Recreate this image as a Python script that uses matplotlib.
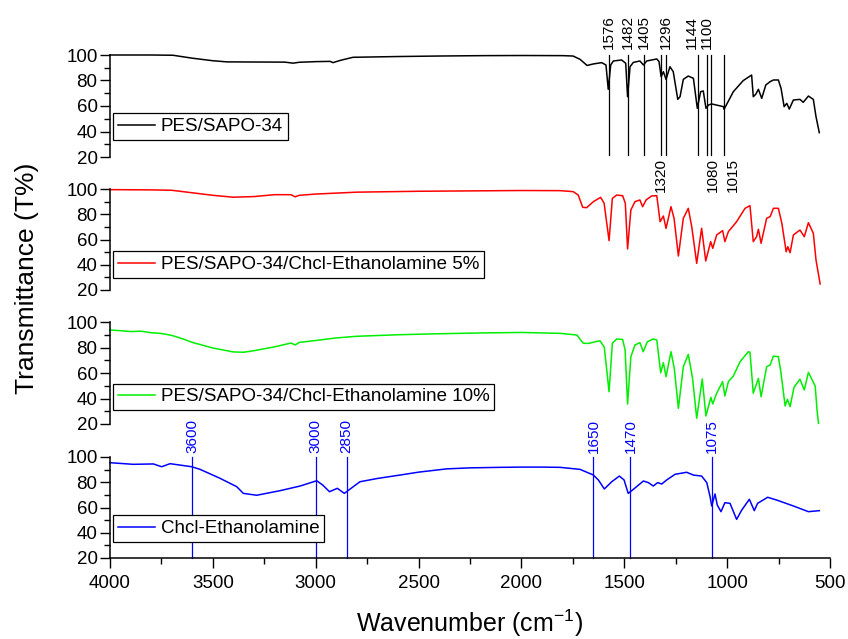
import matplotlib
matplotlib.use('Agg')
import matplotlib.pyplot as plt
from matplotlib.ticker import MultipleLocator

plt.rcParams['font.family'] = ['Liberation Sans', 'DejaVu Sans']
plt.rcParams['mathtext.fontset'] = 'custom'
plt.rcParams['mathtext.rm'] = 'Liberation Sans'
plt.rcParams['mathtext.default'] = 'regular'

# ---------------- data ----------------
labels = ['PES/SAPO-34',
          'PES/SAPO-34/Chcl-Ethanolamine 5%',
          'PES/SAPO-34/Chcl-Ethanolamine 10%',
          'Chcl-Ethanolamine']
colors = ['black', 'red', '#00ee00', 'blue']

pes_wn = [4000, 3800, 3694, 3600, 3500, 3431, 3300, 3150, 3110, 3080,
          3000, 2930, 2916, 2880, 2819, 2600, 2400, 2187, 2000, 1800,
          1749, 1715, 1681, 1650, 1610, 1589, 1578, 1566, 1553, 1513,
          1493, 1484, 1472, 1456, 1424, 1407, 1391, 1342, 1331, 1321,
          1310, 1297, 1278, 1262, 1240, 1229, 1213, 1189, 1164, 1145,
          1129, 1116, 1103, 1091, 1075, 1018, 1015, 970, 922, 881,
          873, 861, 848, 832, 812, 791, 775, 751, 738, 723,
          710, 698, 678, 646, 630, 605, 581, 568, 552]
pes_t = [100, 100, 99.8, 97.5, 95.5, 94.6, 94.5, 94.4, 93.6, 94.3,
         94.8, 95.0, 94.0, 95.8, 98.2, 98.8, 99.2, 99.5, 99.6, 99.5,
         99.2, 96.6, 91.8, 93.0, 94.0, 92.2, 73.1, 92.2, 95.3, 96.1,
         93.5, 67.3, 90.8, 94.2, 95.3, 92.2, 95.3, 96.9, 94.8, 83.0,
         86.9, 80.9, 90.8, 86.9, 65.2, 67.3, 80.9, 83.5, 81.7, 58.2,
         71.2, 71.8, 58.2, 60.8, 61.6, 59.5, 57.4, 71.2, 79.9, 84.3,
         67.3, 69.2, 73.1, 66.0, 76.5, 79.1, 80.4, 80.4, 73.9, 59.5,
         62.1, 57.6, 64.7, 65.2, 62.9, 67.8, 65.2, 51.6, 39.1]

des5_wn = [4000, 3800, 3700, 3600, 3500, 3400, 3300, 3200, 3120, 3100,
           3080, 3000, 2800, 2500, 2000, 1812, 1748, 1724, 1702, 1683,
           1650, 1615, 1598, 1574, 1558, 1537, 1508, 1495, 1484, 1468,
           1448, 1424, 1411, 1394, 1367, 1342, 1326, 1310, 1297, 1273,
           1258, 1237, 1213, 1189, 1172, 1148, 1124, 1104, 1080, 1070,
           1051, 1022, 1011, 994, 954, 913, 889, 873, 857, 848,
           835, 808, 791, 775, 751, 734, 713, 705, 694, 678,
           646, 625, 605, 581, 568, 548]
des5_t = [99.5, 99.3, 99.0, 97.0, 95.0, 93.5, 94.0, 95.5, 95.5, 93.8,
          95.0, 96.0, 97.5, 98.2, 98.8, 98.7, 97.9, 95.2, 85.5, 85.2,
          90.0, 93.4, 88.7, 59.1, 92.6, 95.2, 94.7, 88.7, 52.5, 83.4,
          90.0, 91.3, 86.0, 91.3, 94.5, 94.7, 74.1, 78.6, 68.8, 86.0,
          76.8, 46.9, 76.8, 84.7, 70.1, 41.1, 68.9, 43.0, 58.3, 53.0,
          63.6, 67.0, 58.3, 66.2, 74.1, 84.7, 86.8, 58.3, 62.2, 68.1,
          57.0, 76.8, 78.1, 84.7, 84.7, 72.8, 50.3, 54.3, 49.5, 63.6,
          67.5, 62.2, 73.3, 64.9, 43.8, 24.8]

des10_wn = [4000, 3950, 3900, 3850, 3800, 3750, 3700, 3650, 3600, 3500,
            3400, 3350, 3300, 3200, 3120, 3100, 3080, 3000, 2900, 2800,
            2600, 2400, 2200, 2000, 1812, 1731, 1699, 1675, 1618, 1597,
            1574, 1558, 1537, 1508, 1496, 1484, 1468, 1448, 1424, 1408,
            1388, 1359, 1342, 1323, 1310, 1297, 1273, 1257, 1237, 1213,
            1189, 1168, 1148, 1121, 1103, 1079, 1070, 1051, 1022, 1011,
            994, 970, 937, 897, 889, 873, 848, 835, 808, 791,
            775, 751, 739, 718, 707, 694, 675, 646, 625, 605,
            572, 563, 556]
des10_t = [93.7, 93.2, 92.5, 92.8, 91.6, 91.0, 89.5, 87.0, 84.0, 79.6,
           76.5, 76.3, 77.5, 80.5, 83.5, 82.0, 84.0, 85.5, 87.5, 88.8,
           90.0, 90.8, 91.4, 91.8, 91.1, 89.8, 83.3, 83.2, 85.3, 80.1,
           45.3, 83.3, 86.7, 86.3, 78.0, 35.7, 72.8, 82.0, 83.8, 76.7,
           84.5, 86.7, 85.9, 60.2, 68.1, 57.1, 76.7, 63.7, 32.3, 64.9,
           74.6, 55.8, 24.5, 55.3, 26.3, 40.9, 35.7, 44.1, 53.2, 42.0,
           53.2, 57.6, 68.9, 76.7, 76.2, 44.1, 55.8, 41.4, 64.9, 66.3,
           73.3, 72.8, 61.0, 34.1, 39.4, 33.6, 48.8, 55.1, 46.7, 60.5,
           49.8, 31.0, 20.5]

chcl_wn = [4000, 3887, 3789, 3749, 3708, 3660, 3603, 3562, 3465, 3384,
           3352, 3287, 3174, 3076, 2995, 2966, 2933, 2895, 2861, 2785,
           2700, 2590, 2500, 2363, 2250, 2104, 2000, 1900, 1812, 1715,
           1650, 1626, 1597, 1561, 1524, 1501, 1481, 1464, 1407, 1383,
           1359, 1338, 1318, 1294, 1253, 1197, 1164, 1124, 1099, 1083,
           1075, 1059, 1048, 1030, 1011, 986, 954, 929, 892, 868,
           852, 803, 759, 678, 605, 552]
chcl_t = [95.5, 94.2, 94.5, 92.3, 94.7, 93.6, 92.3, 90.2, 83.1, 76.5,
          71.2, 69.7, 73.3, 77.0, 81.2, 77.8, 72.5, 75.2, 71.2, 80.4,
          83.0, 85.7, 88.0, 90.6, 91.4, 91.8, 92.0, 92.0, 91.8, 90.2,
          85.7, 81.8, 74.7, 80.4, 84.9, 81.8, 71.2, 73.3, 81.0, 79.7,
          77.0, 79.7, 78.6, 81.8, 86.3, 87.9, 85.7, 84.9, 79.7, 68.6,
          61.2, 70.7, 62.0, 56.7, 63.8, 63.3, 50.6, 58.0, 66.5, 57.5,
          63.3, 68.1, 65.9, 61.2, 56.7, 57.5]

pes_peaks_top = [1576, 1482, 1405, 1296, 1144, 1100]
pes_peaks_bottom = [1320, 1080, 1015]
chcl_peaks = [3600, 3000, 2850, 1650, 1470, 1075]

xticks = [4000, 3500, 3000, 2500, 2000, 1500, 1000, 500]
yticks = [20, 40, 60, 80, 100]

series_wn = [pes_wn, des5_wn, des10_wn, chcl_wn]
series_t = [pes_t, des5_t, des10_t, chcl_t]

# label nudges (points) so neighbouring labels do not collide
top_nudge = {1144: -4}
bottom_nudge = {1080: 1.5, 1015: 6}

# ---------------- layout ----------------
fig = plt.figure(figsize=(8.48, 6.39), dpi=100)
W, H = 848.0, 639.0
x0, x1 = 110, 830
panels_px = [(55, 157), (189, 290), (322, 424), (457, 558)]
legend_y = [0.167, 0.12, 0.137, 0.16]

axes = []
for i, (top, bot) in enumerate(panels_px):
    ax = fig.add_axes([x0 / W, 1 - bot / H, (x1 - x0) / W, (bot - top) / H])
    axes.append(ax)
    ax.plot(series_wn[i], series_t[i], color=colors[i], lw=1.1,
            label=labels[i], clip_on=False)
    ax.set_xlim(4000, 500)
    ax.set_ylim(20, 100)
    ax.set_yticks(yticks)
    ax.yaxis.set_minor_locator(MultipleLocator(10))
    ax.tick_params(axis='y', which='major', direction='out', length=7,
                   width=1, labelsize=13.5, pad=2)
    ax.tick_params(axis='y', which='minor', direction='out', length=4, width=1)
    for s in ['top', 'right']:
        ax.spines[s].set_visible(False)
    ax.spines['left'].set_linewidth(1.1)
    if i < 3:
        ax.spines['bottom'].set_visible(False)
        ax.set_xticks([])
        ax.xaxis.set_minor_locator(plt.NullLocator())
    else:
        ax.spines['bottom'].set_linewidth(1.1)
        ax.set_xticks(xticks)
        ax.xaxis.set_minor_locator(MultipleLocator(250))
        ax.tick_params(axis='x', which='major', direction='out', length=7,
                       width=1, labelsize=13.5, pad=5)
        ax.tick_params(axis='x', which='minor', direction='out', length=4,
                       width=1)
    ax.patch.set_alpha(0)
    leg = ax.legend(loc='lower left', bbox_to_anchor=(0.004, legend_y[i]),
                    borderaxespad=0, fontsize=13.5, frameon=True,
                    fancybox=False, framealpha=1, edgecolor='black',
                    handlelength=2.0, handletextpad=0.3, borderpad=0.25)
    leg.get_frame().set_linewidth(0.9)

# annotations panel 1
ax = axes[0]
for wn in pes_peaks_top + pes_peaks_bottom:
    ax.plot([wn, wn], [21.5, 100], color='black', lw=0.9, clip_on=False)
for wn in pes_peaks_top:
    ax.annotate(str(wn), xy=(wn, 100), xytext=(top_nudge.get(wn, 0), 4),
                textcoords='offset points', rotation=90, ha='center',
                va='bottom', fontsize=11, color='black', annotation_clip=False)
for wn in pes_peaks_bottom:
    ax.annotate(str(wn), xy=(wn, 21.5), xytext=(bottom_nudge.get(wn, 0), -2),
                textcoords='offset points', rotation=90, ha='center',
                va='top', fontsize=11, color='black', annotation_clip=False)

# annotations panel 4
ax = axes[3]
for wn in chcl_peaks:
    ax.plot([wn, wn], [20, 100], color='blue', lw=0.9, clip_on=False)
    ax.annotate(str(wn), xy=(wn, 100), xytext=(0, 3), textcoords='offset points',
                rotation=90, ha='center', va='bottom', fontsize=11,
                color='blue', annotation_clip=False)

fig.text(27 / W, 1 - 278 / H, 'Transmittance (T%)', rotation=90,
         ha='center', va='center', fontsize=19)
fig.text(470 / W, 1 - 623 / H, r'Wavenumber (cm$^{-1}$)',
         ha='center', va='center', fontsize=18)

fig.savefig('out.png', dpi=100)
